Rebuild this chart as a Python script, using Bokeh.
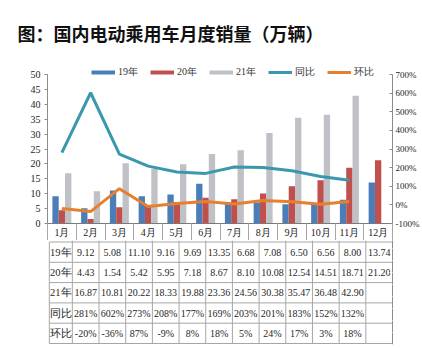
from bokeh.plotting import figure
from bokeh.models import (ColumnDataSource, Range1d, LinearAxis, FixedTicker,
                          Legend, LegendItem)
from bokeh.layouts import column
from bokeh.transform import dodge
from bokeh.core.properties import value
from bokeh.embed import file_html
from bokeh.resources import INLINE

# ---------------- data ----------------
months = ["1月", "2月", "3月", "4月", "5月", "6月", "7月", "8月", "9月", "10月", "11月", "12月"]
sales_2019 = [9.12, 5.08, 11.10, 9.16, 9.69, 13.35, 6.68, 7.08, 6.50, 6.56, 8.00, 13.74]
sales_2020 = [4.43, 1.54, 5.42, 5.95, 7.18, 8.67, 8.10, 10.08, 12.54, 14.51, 18.71, 21.20]
sales_2021 = [16.87, 10.81, 20.22, 18.33, 19.88, 23.36, 24.56, 30.38, 35.47, 36.48, 42.90]
yoy_pct = [281, 602, 273, 208, 177, 169, 203, 201, 183, 152, 132]
mom_pct = [-20, -36, 87, -9, 8, 18, 5, 24, 17, 3, 18]
row_labels = ["19年", "20年", "21年", "同比", "环比"]
left_ticks = [0, 5, 10, 15, 20, 25, 30, 35, 40, 45, 50]
right_ticks = [-100, 0, 100, 200, 300, 400, 500, 600, 700]
title_text = "图：国内电动乘用车月度销量（万辆）"

# ---------------- styles / layout ----------------
C19, C20, C21 = "#4A7EBB", "#C0504D", "#BFC1C6"
CYOY, CMOM = "#3A98AE", "#E6802F"
AXIS_C = "#8C8C8C"
GRID_C = "#A6A6A6"
SERIF = "Liberation Serif"

W = 422
TOP_H, BOT_H = 240, 109
FL, FR = 47, 395          # frame left/right in px
FT, FB = 62, 223          # top figure frame top/bottom
Y50 = 74                  # px of value 50
U = (FR - FL) / len(months)
RH = 20.3                 # table row height px
BOT_BORDER = 5
TOP_PAD = 1.5

n = len(months)
xc = [i + 0.5 for i in range(n)]
scale_h = (FB - FT) / (FB - Y50)
NAN = float("nan")

top = figure(width=W, height=TOP_H, output_backend="svg", toolbar_location=None,
             x_range=Range1d(0, n), y_range=Range1d(0, left_ticks[-1] * scale_h),
             x_axis_location=None, y_axis_location=None,
             min_border_left=FL, min_border_right=W - FR,
             min_border_top=FT, min_border_bottom=TOP_H - FB,
             title=title_text)
top.outline_line_color = None
top.xgrid.visible = False
top.ygrid.visible = False
top.title.align = "left"
top.title.offset = -30
top.title.text_font = "Noto Sans CJK SC"
top.title.text_font_size = "18px"
top.title.text_font_style = "bold"
top.title.text_color = "#111111"
top.title.standoff = 33

pr0, pr1 = right_ticks[0], right_ticks[-1]
top.extra_y_ranges = {"pct": Range1d(pr0, pr0 + (pr1 - pr0) * scale_h)}

ly = LinearAxis(ticker=FixedTicker(ticks=left_ticks), bounds=(left_ticks[0], left_ticks[-1]),
                axis_line_color=AXIS_C, major_tick_line_color=AXIS_C,
                major_tick_out=3, major_tick_in=0, minor_tick_line_color=None,
                major_label_text_font=SERIF, major_label_text_font_size="10px",
                major_label_text_color="#222222", major_label_standoff=4)
top.add_layout(ly, "left")


def right_axis(color_lbl, color_tick, bounds):
    kw = dict(y_range_name="pct", ticker=FixedTicker(ticks=right_ticks),
              major_label_overrides={t: f"{t}%" for t in right_ticks},
              axis_line_color=AXIS_C, major_tick_line_color=color_tick,
              major_tick_out=0, major_tick_in=3, minor_tick_line_color=None,
              major_label_text_font=SERIF, major_label_text_font_size="9px",
              major_label_text_color=color_lbl, major_label_standoff=3)
    if bounds:
        kw["bounds"] = (pr0, pr1)
    return LinearAxis(**kw)


top.add_layout(right_axis("#222222", AXIS_C, True), "right")

xa = LinearAxis(ticker=FixedTicker(ticks=xc, minor_ticks=list(range(n + 1))),
                major_label_overrides={x: m for x, m in zip(xc, months)},
                axis_line_color="#7A7A7A",
                major_tick_out=TOP_H - FB, major_tick_in=0, major_tick_line_color=None,
                minor_tick_out=TOP_H - FB, minor_tick_in=0, minor_tick_line_color=GRID_C,
                major_label_text_font=SERIF, major_label_text_font_size="10px",
                major_label_text_color="#222222", major_label_standoff=-14)
top.add_layout(xa, "below")

bars = ColumnDataSource(dict(x=xc, y19=sales_2019, y20=sales_2020))
bars21 = ColumnDataSource(dict(x=xc[:len(sales_2021)], y21=sales_2021))
BW = 0.22
top.vbar(x=dodge("x", -BW, range=top.x_range), top="y19", width=BW, source=bars,
         fill_color=C19, line_color=None)
top.vbar(x=dodge("x", 0, range=top.x_range), top="y20", width=BW, source=bars,
         fill_color=C20, line_color=None)
top.vbar(x=dodge("x", BW, range=top.x_range), top="y21", width=BW, source=bars21,
         fill_color=C21, line_color=None)

lines = ColumnDataSource(dict(x=xc[:len(yoy_pct)], yoy=yoy_pct, mom=mom_pct))
r_yoy = top.line("x", "yoy", source=lines, y_range_name="pct", line_color=CYOY, line_width=3)
r_mom = top.line("x", "mom", source=lines, y_range_name="pct", line_color=CMOM, line_width=3)

# legend proxies for the bar series (drawn as thick short strokes, like the reference)
d19 = top.line(x=[NAN], y=[NAN], line_color=C19, line_width=4)
d20 = top.line(x=[NAN], y=[NAN], line_color=C20, line_width=4)
d21 = top.line(x=[NAN], y=[NAN], line_color=C21, line_width=4)

legend = Legend(items=[LegendItem(label="19年", renderers=[d19]),
                       LegendItem(label="20年", renderers=[d20]),
                       LegendItem(label="21年", renderers=[d21]),
                       LegendItem(label="同比", renderers=[r_yoy]),
                       LegendItem(label="环比", renderers=[r_mom])],
                orientation="horizontal", location=(44, FB - 79),
                glyph_width=24, glyph_height=12, label_height=12, label_width=20,
                label_standoff=3, spacing=12, padding=0, margin=0,
                border_line_color=None, background_fill_alpha=0,
                label_text_font=SERIF, label_text_font_size="10px",
                label_text_color="#333333")
top.add_layout(legend)

# ---------------- table ----------------
XS = -(FL - 20) / U
XL = -(FL - 22) / U
frame_h = BOT_H - BOT_BORDER
y_top = TOP_PAD / RH
y_bot = -(frame_h - TOP_PAD) / RH
bot = figure(width=W, height=BOT_H, output_backend="svg", toolbar_location=None,
             x_range=Range1d(XS, n), y_range=Range1d(y_bot, y_top),
             x_axis_location=None, y_axis_location=None,
             min_border_left=20, min_border_right=W - FR,
             min_border_top=0, min_border_bottom=BOT_BORDER)
bot.outline_line_color = None
bot.xgrid.visible = False
bot.ygrid.visible = False
bot.extra_y_ranges = {"pct": Range1d(pr0, pr0 + (pr1 - pr0) * scale_h)}
bot.add_layout(right_axis("white", "white", False), "right")

nr = len(row_labels)
hy = [-float(r) for r in range(nr + 1)]
bot.segment(x0=[XL] * len(hy), x1=[n] * len(hy), y0=hy, y1=hy, line_color=GRID_C, line_width=1)
vx = list(range(n + 1))
bot.segment(x0=vx, x1=vx, y0=[-nr] * len(vx), y1=[y_top] * len(vx), line_color=GRID_C, line_width=1)
bot.segment(x0=[XL], x1=[XL], y0=[0], y1=[-nr], line_color=GRID_C, line_width=1)

rows = [(sales_2019, "{:.2f}"), (sales_2020, "{:.2f}"), (sales_2021, "{:.2f}"),
        (yoy_pct, "{}%"), (mom_pct, "{}%")]
tx, ty, tt = [], [], []
for r, (vals, fmt) in enumerate(rows):
    for j, v in enumerate(vals):
        tx.append(j + 0.5)
        ty.append(-(r + 0.5))
        tt.append(fmt.format(v))
cells = ColumnDataSource(dict(x=tx, y=ty, t=tt))
bot.text("x", "y", text="t", source=cells, text_align="center", text_baseline="middle",
         text_font=value(SERIF), text_font_size="10px", text_color="#262626")

labels = ColumnDataSource(dict(x=[XL / 2] * nr, y=[-(r + 0.5) for r in range(nr)], t=row_labels))
bot.text("x", "y", text="t", source=labels, text_align="center", text_baseline="middle",
         text_font=value(SERIF), text_font_size="10.5px", text_color="#262626")

layout = column(top, bot, spacing=0)
open("out.html", "w").write(file_html(layout, INLINE))
